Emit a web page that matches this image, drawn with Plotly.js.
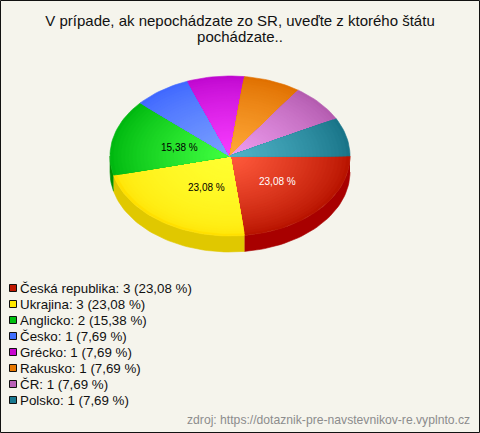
<!DOCTYPE html>
<html><head><meta charset="utf-8">
<script src="https://cdn.plot.ly/plotly-3.0.1.min.js"></script>
<style>html,body{margin:0;padding:0;background:#f5f4ec}#c{width:480px;height:433px}</style></head>
<body><div id="c"></div>
<script>
const categories=['Česká republika','Ukrajina','Anglicko','Česko','Grécko','Rakusko','ČR','Polsko'];
const counts=[3,3,2,1,1,1,1,1];
const percentLabels=['23,08','23,08','15,38','7,69','7,69','7,69','7,69','7,69'];
const centerColors=['#ff5a3c','#ffff30','#40ff40','#7aa0ff','#f83cff','#ffa838','#ee9cee','#50b4c8'];
const edgeColors=['#b81400','#ffe000','#00b810','#4068ff','#c008d0','#e07000','#b45cb0','#187488'];
const sideColors=['#a80000','#e0c800','#009000','#3050c0','#900090','#a85000','#884488','#105868'];
const swatchColors=['#c01800','#ffe800','#00c010','#4070ff','#c808d0','#e87800','#b860b8','#187890'];
const shadePower=[0.8,0.4,0.8,0.8,0.8,0.8,0.8,0.8];
const title='V prípade, ak nepochádzate zo SR, uveďte z ktorého štátu<br>pochádzate..';
const source='zdroj: https://dotaznik-pre-navstevnikov-re.vyplnto.cz';

const cx=230,cy=156,rx=120,ry=80,depth=16,STEPS=32;
const total=counts.reduce((a,b)=>a+b,0);
function hex(c){return [1,3,5].map(i=>parseInt(c.substr(i,2),16));}
function mix(a,b,t){const A=hex(a),B=hex(b);return 'rgb('+A.map((v,i)=>Math.round(v+(B[i]-v)*t)).join(',')+')';}
const rad=d=>d*Math.PI/180;
function arc(a0,a1,f,dy){const n=Math.max(4,Math.ceil((a1-a0)/2)),X=[],Y=[];
  for(let i=0;i<=n;i++){const a=rad(a0+(a1-a0)*i/n);X.push(cx+rx*f*Math.cos(a));Y.push(cy+dy+ry*f*Math.sin(a));}
  return [X,Y];}
const traces=[];
function poly(X,Y,color){traces.push({type:'scatter',mode:'lines',x:X,y:Y,fill:'toself',fillcolor:color,
  line:{color:color,width:0.6},hoverinfo:'skip',showlegend:false});}
let start=0;const spans=counts.map(v=>{const s=[start,start+v/total*360];start=s[1];return s;});
spans.forEach((s,i)=>{const a0=Math.max(s[0],0),a1=Math.min(s[1],180);if(a1<=a0)return;
  const [X,Y]=arc(a0,a1,1,0),[X2,Y2]=arc(a0,a1,1,depth);
  poly(X.concat(X2.reverse()),Y.concat(Y2.reverse()),sideColors[i]);});
spans.forEach((s,i)=>{for(let k=0;k<STEPS;k++){const f=1-k/STEPS,t=Math.pow(k/(STEPS-1),shadePower[i]);
  const [X,Y]=arc(s[0],s[1],f,0);poly([cx].concat(X,[cx]),[cy].concat(Y,[cy]),mix(edgeColors[i],centerColors[i],t));}});

const font='"Liberation Sans",Arial,sans-serif';
const annotations=[];
const labelPos=[[277.5,181,'#ffffff'],[206.5,187,'#000000'],[179,147,'#000000']];
labelPos.forEach((p,i)=>annotations.push({x:p[0],y:p[1],xref:'x',yref:'y',text:percentLabels[i]+' %',showarrow:false,
  font:{family:font,size:10,color:p[2]},xanchor:'center',yanchor:'middle'}));
const shapes=[];
categories.forEach((c,i)=>{const y=288+i*16;
  annotations.push({x:18,y:y,xref:'x',yref:'y',xanchor:'left',yanchor:'middle',showarrow:false,
    text:c+': '+counts[i]+' ('+percentLabels[i]+' %)',font:{family:font,size:13.33,color:'#111111'}});
  shapes.push({type:'rect',xref:'x',yref:'y',x0:9.5,x1:16.5,y0:y-3.5,y1:y+3.5,fillcolor:swatchColors[i],line:{color:'#111111',width:1}});});
annotations.push({x:472,y:420,xref:'x',yref:'y',xanchor:'right',yanchor:'middle',showarrow:false,text:source,
  font:{family:font,size:12.17,color:'#8c8c8c'}});
shapes.push({type:'rect',xref:'x',yref:'y',x0:0.5,x1:479.5,y0:0.5,y1:432.5,line:{color:'#111111',width:1},fillcolor:'rgba(0,0,0,0)'});
const axis={visible:false,fixedrange:true,showgrid:false,zeroline:false};
Plotly.newPlot('c',traces,{
  width:480,height:433,margin:{l:0,r:0,t:0,b:0},paper_bgcolor:'#f5f4ec',plot_bgcolor:'#f5f4ec',showlegend:false,
  title:{text:title,font:{family:font,size:15,color:'#111111'},x:0.5,xanchor:'center',y:0.94,yanchor:'top',yref:'container'},
  xaxis:Object.assign({range:[0,480]},axis),yaxis:Object.assign({range:[433,0]},axis),
  annotations,shapes},{staticPlot:true,displayModeBar:false}).then(()=>{
    const lines=document.querySelectorAll('.gtitle .line');
    if(lines[1])lines[1].setAttribute('dy','1.05em');
  });
</script></body></html>
